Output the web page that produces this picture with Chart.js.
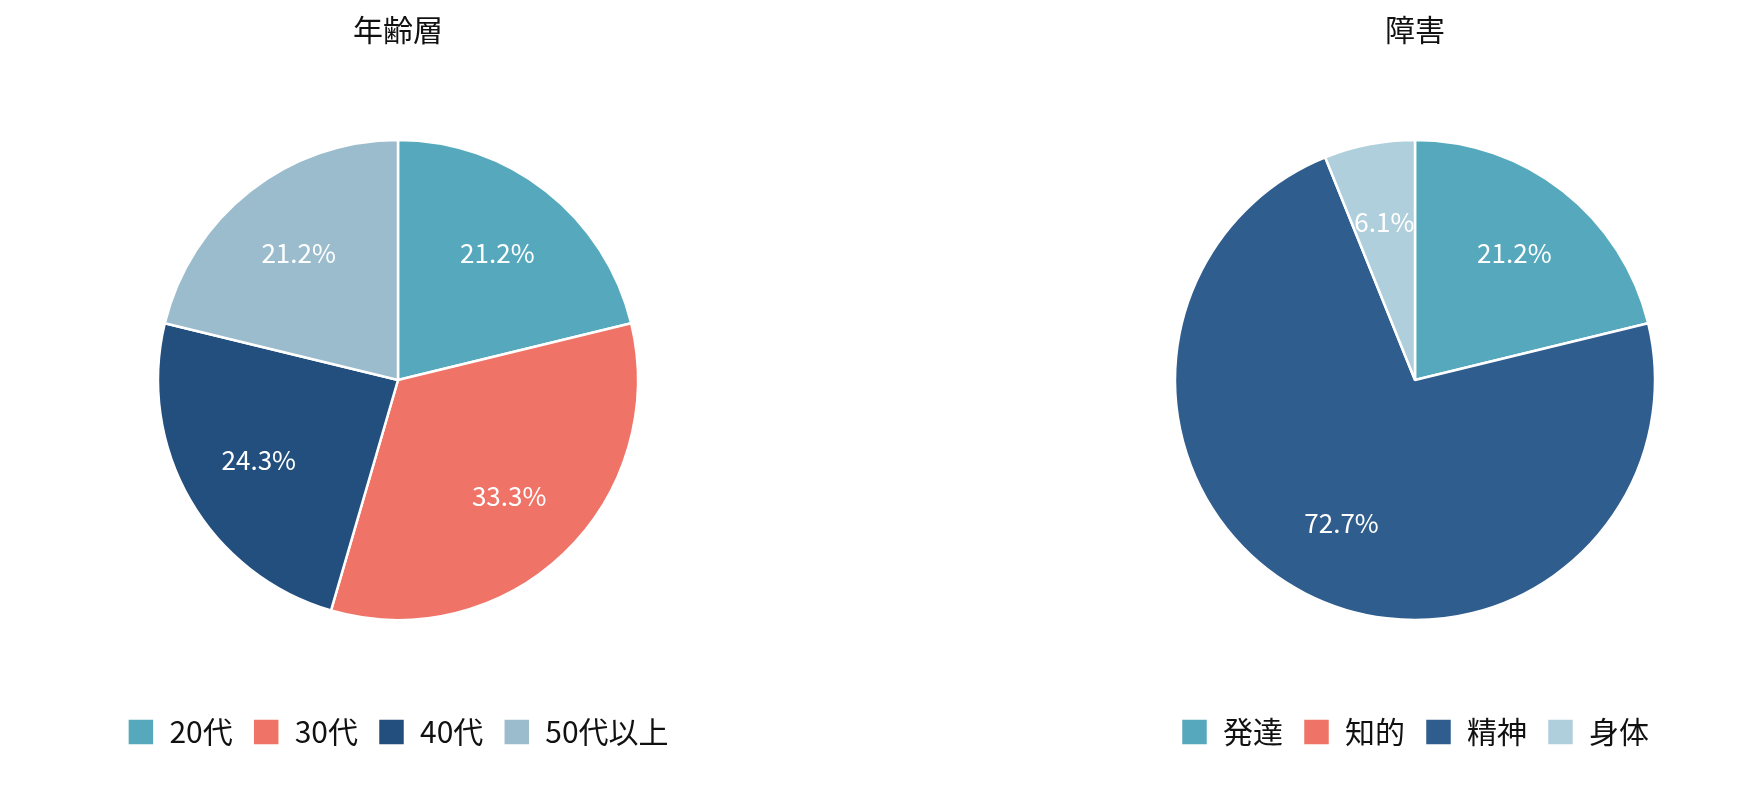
<!DOCTYPE html>
<html><head><meta charset="utf-8">
<script src="https://cdn.jsdelivr.net/npm/chart.js@4"></script>
<style>body{margin:0;background:#fff;width:1756px;height:796px;position:relative;overflow:hidden}
.c{position:absolute;top:0;height:796px}</style></head>
<body>
<div class="c" style="left:0;width:796px"><canvas id="a"></canvas></div>
<div class="c" style="left:1074px;width:682px"><canvas id="b"></canvas></div>
<script>
const ageLabels=['20代','30代','40代','50代以上'];
const ageValues=[21.2,33.3,24.3,21.2];
const ageColors=['#56a9bd','#ef7366','#234f7e','#9bbccd'];
const disLabels=['発達','知的','精神','身体'];
const disValues=[21.2,0,72.7,6.1];
const disColors=['#56a9bd','#ef7366','#2f5d8e','#afcfdc'];
const FONT='"Noto Sans CJK JP", "Noto Sans", sans-serif';
const pctPlugin={id:'pct',afterDatasetsDraw(chart){
  const ctx=chart.ctx;const meta=chart.getDatasetMeta(0);
  ctx.save();ctx.fillStyle='#fff';ctx.font='26px '+FONT;ctx.textAlign='center';ctx.textBaseline='middle';
  meta.data.forEach((arc,i)=>{const v=chart.data.datasets[0].data[i];if(!v)return;
    const p=arc.getProps(['x','y','startAngle','endAngle','outerRadius'],true);
    const a=(p.startAngle+p.endAngle)/2,r=p.outerRadius*0.67;
    ctx.fillText(v.toFixed(1)+'%',p.x+Math.cos(a)*r,p.y+Math.sin(a)*r);});
  ctx.restore();}};
function make(id,title,labels,values,colors){
  new Chart(document.getElementById(id),{type:'pie',
    data:{labels,datasets:[{data:values,backgroundColor:colors,borderColor:'#fff',borderWidth:2.5,radius:240}]},
    options:{responsive:true,maintainAspectRatio:false,animation:false,
      layout:{padding:{bottom:39}},
      plugins:{tooltip:{enabled:false},
        title:{display:true,text:title,color:'#111',font:{family:FONT,size:30,weight:'normal'},padding:{top:12,bottom:15}},
        legend:{position:'bottom',labels:{color:'#111',font:{family:FONT,size:30},boxWidth:27,boxHeight:27,padding:20}}}},
    plugins:[pctPlugin]});
}
make('a','年齢層',ageLabels,ageValues,ageColors);
make('b','障害',disLabels,disValues,disColors);
</script></body></html>
